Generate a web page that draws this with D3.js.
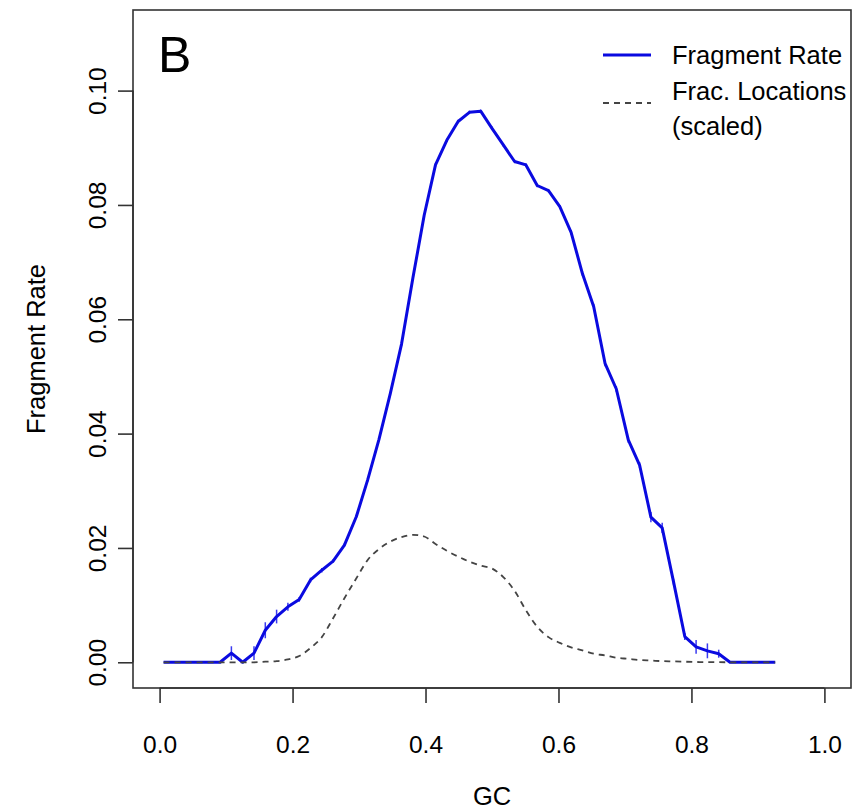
<!DOCTYPE html>
<html>
<head>
<meta charset="utf-8">
<script src="https://cdn.jsdelivr.net/npm/d3@7"></script>
<style>
  html, body { margin: 0; padding: 0; background: #fff; }
  svg { display: block; font-family: "Liberation Sans", Arial, sans-serif; }
</style>
</head>
<body>
<svg id="chart" width="859" height="812"></svg>
<script>
// GC bin positions
const gc = [0.006,0.023,0.040,0.057,0.074,0.091,0.108,0.125,0.142,0.159,
            0.176,0.193,0.210,0.227,0.244,0.261,0.278,0.296,0.313,0.330,
            0.347,0.364,0.381,0.398,0.415,0.432,0.449,0.466,0.483,0.500,
            0.517,0.534,0.551,0.568,0.585,0.602,0.619,0.636,0.653,0.670,
            0.687,0.705,0.722,0.739,0.756,0.773,0.790,0.807,0.824,0.841,
            0.858,0.875,0.892,0.909,0.926];
// Fragment rate (blue)
const fragRate = [0,0,0,0,0,0,0.0016,0,0.0016,0.0056,
                  0.0080,0.0097,0.0110,0.0144,0.0161,0.0177,0.0205,0.0255,0.0319,0.0390,
                  0.0470,0.0557,0.0672,0.0782,0.0870,0.0913,0.0946,0.0962,0.0964,0.0934,
                  0.0905,0.0876,0.0870,0.0834,0.0825,0.0797,0.0752,0.0680,0.0622,0.0523,
                  0.0478,0.0389,0.0345,0.0254,0.0235,0.0141,0.0045,0.0027,0.0020,0.0015,
                  0,0,0,0,0];
// Error bar half-lengths
const fragErr = [0,0,0,0,0,0,0.0012,0,0.0012,0.0014,
                 0.0012,0.0007,0.0004,0.0004,0.0004,0.0003,0.0003,0.0003,0.0003,0.0003,
                 0.0003,0.0003,0.0003,0.0003,0.0003,0.0003,0.0003,0.0003,0.0003,0.0003,
                 0.0003,0.0003,0.0003,0.0003,0.0003,0.0003,0.0004,0.0004,0.0005,0.0005,
                 0.0005,0.0005,0.0005,0.0009,0.0009,0.0005,0.0006,0.0012,0.0013,0.0007,
                 0,0,0,0,0];
// Fraction of locations (scaled), dashed
const fracLoc = [0,0,0,0,0,0,0,0,0,0.0001,
                 0.0002,0.0005,0.0011,0.0025,0.0044,0.0077,0.0112,0.0147,0.0179,0.0198,
                 0.0211,0.0219,0.0223,0.0220,0.0207,0.0195,0.0185,0.0176,0.0169,0.0164,
                 0.0149,0.0125,0.0091,0.0062,0.0044,0.0034,0.0026,0.0021,0.0015,0.0012,
                 0.0008,0.0006,0.0004,0.0003,0.0002,0.00015,0.0001,0.00005,0.00003,0.00002,
                 0,0,0,0,0];
const xTicks = [0.0,0.2,0.4,0.6,0.8,1.0];
const yTicks = [0.00,0.02,0.04,0.06,0.08,0.10];
const legendLabels = ["Fragment Rate", "Frac. Locations", "(scaled)"];

const svg = d3.select("#chart");
const L = 133, R = 851, T = 10, B = 688;
const x = d3.scaleLinear().domain([-0.04, 1.04]).range([L, R]);
const y = d3.scaleLinear().domain([-0.0045, 0.1141]).range([B, T]);
const axisColor = "#333";
const tickFont = 24.5;
const labFont = 25.5;
const FF = "Liberation Sans, Arial, sans-serif";

// box
svg.append("rect").attr("x", L).attr("y", T).attr("width", R - L).attr("height", B - T)
  .attr("fill", "none").attr("stroke", axisColor).attr("stroke-width", 1.6);

// x axis
const xAxis = d3.axisBottom(x).tickValues(xTicks).tickFormat(d3.format(".1f"))
  .tickSize(15).tickPadding(33);
const gx = svg.append("g").attr("transform", `translate(0,${B})`).call(xAxis);
gx.select(".domain").attr("d", `M${x(0)},0H${x(1)}`).attr("stroke", axisColor).attr("stroke-width", 1.6);
gx.selectAll(".tick line").attr("stroke", axisColor).attr("stroke-width", 1.6);
gx.selectAll(".tick text").attr("font-size", tickFont).attr("fill", "#000").attr("font-family", FF);

// y axis
const yAxis = d3.axisLeft(y).tickValues(yTicks).tickFormat(d3.format(".2f"))
  .tickSize(15).tickPadding(0);
const gy = svg.append("g").attr("transform", `translate(${L},0)`).call(yAxis);
gy.select(".domain").attr("d", `M0,${y(0)}V${y(0.10)}`).attr("stroke", axisColor).attr("stroke-width", 1.6);
gy.selectAll(".tick line").attr("stroke", axisColor).attr("stroke-width", 1.6);
gy.selectAll(".tick text").attr("font-size", tickFont).attr("fill", "#000")
  .attr("font-family", FF)
  .attr("x", null).attr("dy", null)
  .attr("text-anchor", "middle")
  .attr("transform", "translate(-27,0) rotate(-90)");

// axis titles
svg.append("text").attr("x", (x(0) + x(1)) / 2).attr("y", 805).attr("text-anchor", "middle")
  .attr("font-size", labFont).text("GC");
svg.append("text").attr("transform", `translate(45,${(T + B) / 2}) rotate(-90)`)
  .attr("text-anchor", "middle").attr("font-size", labFont).text("Fragment Rate");

// panel letter
svg.append("text").attr("x", 158).attr("y", 72).attr("font-size", 50).text("B");

const pts = gc.map((g, i) => ({ g, r: fragRate[i], e: fragErr[i], f: fracLoc[i] }));

// error bars
svg.append("g").selectAll("line").data(pts.filter(d => d.e > 0)).join("line")
  .attr("x1", d => x(d.g)).attr("x2", d => x(d.g))
  .attr("y1", d => y(d.r - d.e)).attr("y2", d => y(d.r + d.e))
  .attr("stroke", "#3a3af0").attr("stroke-width", 1.5);

// fragment rate line
svg.append("path").datum(pts)
  .attr("d", d3.line().x(d => x(d.g)).y(d => y(d.r)))
  .attr("fill", "none").attr("stroke", "#0a0ae0").attr("stroke-width", 3)
  .attr("stroke-linejoin", "round");

// frac locations dashed
svg.append("path").datum(pts)
  .attr("d", d3.line().x(d => x(d.g)).y(d => y(d.f)).curve(d3.curveMonotoneX))
  .attr("fill", "none").attr("stroke", "#444").attr("stroke-width", 1.8)
  .attr("stroke-dasharray", "6,5");

// legend
const lg = svg.append("g");
lg.append("line").attr("x1", 603).attr("x2", 651).attr("y1", 55).attr("y2", 55)
  .attr("stroke", "#0a0ae0").attr("stroke-width", 3);
lg.append("line").attr("x1", 603).attr("x2", 651).attr("y1", 103).attr("y2", 103)
  .attr("stroke", "#444").attr("stroke-width", 1.8).attr("stroke-dasharray", "6,5");
lg.append("text").attr("x", 672).attr("y", 64).attr("font-size", labFont).text(legendLabels[0]);
lg.append("text").attr("x", 672).attr("y", 100).attr("font-size", labFont).text(legendLabels[1]);
lg.append("text").attr("x", 672).attr("y", 135).attr("font-size", labFont).text(legendLabels[2]);
</script>
</body>
</html>
